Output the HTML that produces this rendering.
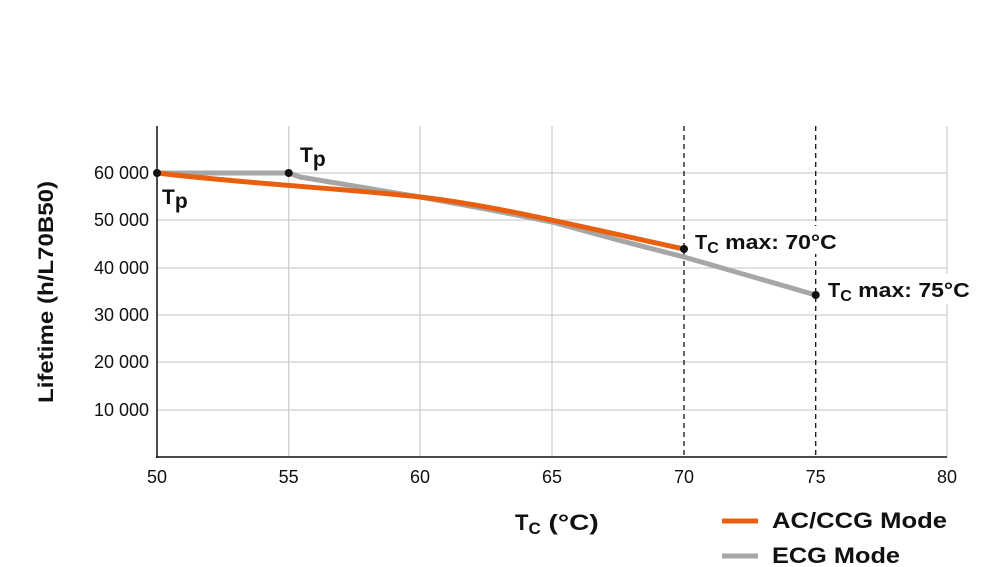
<!DOCTYPE html>
<html><head><meta charset="utf-8"><style>
body{margin:0;background:#fff;}
svg{display:block;font-family:"Liberation Sans",Arial,sans-serif;}
</style></head><body>
<svg width="1000" height="567" viewBox="0 0 1000 567">
<g stroke="#cfcfcf" stroke-width="1.3" fill="none">
<line x1="157" y1="173" x2="947" y2="173"/>
<line x1="157" y1="220" x2="947" y2="220"/>
<line x1="157" y1="268" x2="947" y2="268"/>
<line x1="157" y1="315" x2="947" y2="315"/>
<line x1="157" y1="362" x2="947" y2="362"/>
<line x1="157" y1="410" x2="947" y2="410"/>
<line x1="288.7" y1="126" x2="288.7" y2="457"/>
<line x1="420" y1="126" x2="420" y2="457"/>
<line x1="552" y1="126" x2="552" y2="457"/>
<line x1="947" y1="126" x2="947" y2="457"/>
</g>
<g stroke="#111" stroke-width="1.3" stroke-dasharray="5,4">
<line x1="684" y1="126" x2="684" y2="457"/>
<line x1="815.7" y1="126" x2="815.7" y2="457"/>
</g>
<line x1="157" y1="126" x2="157" y2="458" stroke="#111" stroke-width="1.5"/>
<line x1="156" y1="457" x2="947" y2="457" stroke="#111" stroke-width="1.5"/>
<polyline points="157,173 288.7,173 300,177 360,187 420,197 486,209 552,222 618,240 684,257 815.7,295" fill="none" stroke="#a6a6a6" stroke-width="5" stroke-linejoin="round"/>
<path d="M157,173 C250,184 350,189 420,197 C490,205 560,222 684,249" fill="none" stroke="#e8600f" stroke-width="5"/>
<g fill="#111">
<circle cx="157" cy="173" r="4"/><circle cx="288.7" cy="173" r="4"/>
<circle cx="684" cy="249" r="4"/><circle cx="815.7" cy="295" r="4"/>
</g>
<rect x="694" y="226" width="152" height="28" fill="#fff"/>
<rect x="826" y="274" width="150" height="30" fill="#fff"/>
<g font-size="18" fill="#111" text-anchor="end">
<text x="149" y="179">60 000</text><text x="149" y="226">50 000</text>
<text x="149" y="274">40 000</text><text x="149" y="321">30 000</text>
<text x="149" y="368">20 000</text><text x="149" y="416">10 000</text>
</g>
<g font-size="18" fill="#111" text-anchor="middle">
<text x="157" y="483">50</text><text x="288.7" y="483">55</text><text x="420" y="483">60</text>
<text x="552" y="483">65</text><text x="684" y="483">70</text><text x="815.7" y="483">75</text><text x="947" y="483">80</text>
</g>
<text transform="translate(53,292) rotate(-90)" font-size="21" font-weight="bold" text-anchor="middle" fill="#111" textLength="222" lengthAdjust="spacingAndGlyphs">Lifetime (h/L70B50)</text>
<g font-weight="bold" fill="#111">
<text x="162" y="204" font-size="21">T<tspan font-size="21" dy="4">p</tspan></text>
<text x="300" y="162" font-size="21">T<tspan font-size="21" dy="4">p</tspan></text>
<text x="695" y="249" font-size="20">T<tspan font-size="16" dy="4">C</tspan><tspan dy="-4" textLength="118" lengthAdjust="spacingAndGlyphs"> max: 70°C</tspan></text>
<text x="828" y="297" font-size="20">T<tspan font-size="16" dy="4">C</tspan><tspan dy="-4" textLength="118" lengthAdjust="spacingAndGlyphs"> max: 75°C</tspan></text>
<text x="515" y="530" font-size="22">T<tspan font-size="17" dy="4">C</tspan><tspan dy="-4" textLength="58" lengthAdjust="spacingAndGlyphs"> (°C)</tspan></text>
<text x="772" y="528" font-size="22" textLength="175" lengthAdjust="spacingAndGlyphs">AC/CCG Mode</text>
<text x="772" y="563" font-size="22" textLength="128" lengthAdjust="spacingAndGlyphs">ECG Mode</text>
</g>
<line x1="722" y1="521" x2="758" y2="521" stroke="#e8600f" stroke-width="5"/>
<line x1="722" y1="556" x2="758" y2="556" stroke="#a6a6a6" stroke-width="5"/>
</svg>
</body></html>
